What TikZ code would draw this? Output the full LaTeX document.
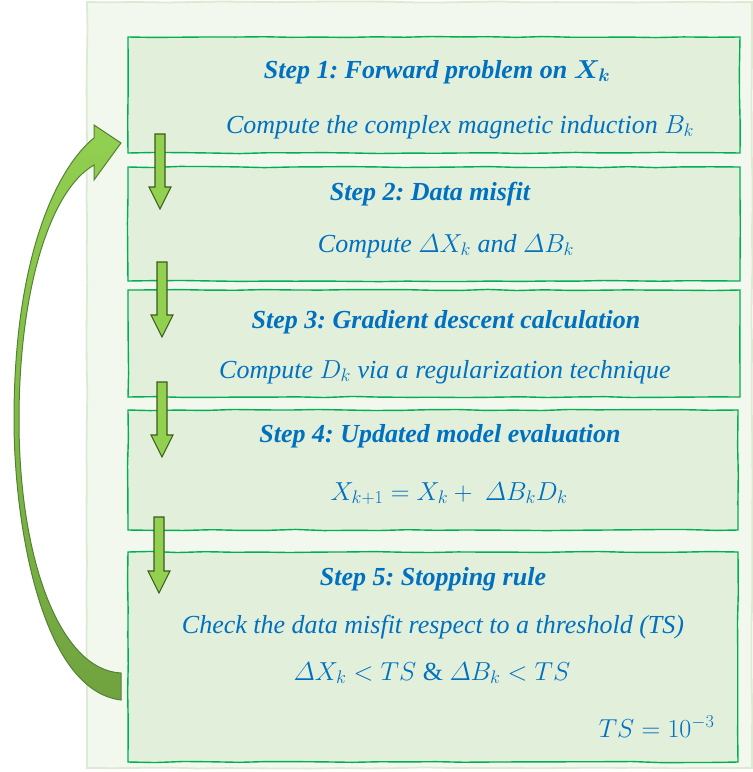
\RequirePackage{fix-cm}
\documentclass[tikz,border=0pt]{standalone}
\usepackage{amsmath}
\usepackage{fontspec}
\setmainfont{Liberation Serif}
\usepackage{tikz}
\usetikzlibrary{positioning,calc,decorations.pathmorphing}
\frenchspacing

\definecolor{stepblue}{HTML}{0070C0}
\definecolor{boxfill}{HTML}{E2EFDA}
\definecolor{boxline}{HTML}{00B050}
\definecolor{panelfill}{HTML}{F3F8EF}
\definecolor{panelline}{HTML}{DCEAD1}
\definecolor{arrowfill}{HTML}{92D050}
\definecolor{arrowline}{HTML}{3B5A1E}
\definecolor{loopdark}{HTML}{70A33F}
\definecolor{loopline}{HTML}{548235}

% fat vertical arrow from #1 down to the tip #2
\newcommand{\stepdown}[2]{%
  \draw[flowarrow] ($(#1)+(-5,0)$) -- ($(#2)+(-5,-22)$) -- ($(#2)+(-11,-22)$) -- (#2)
    -- ($(#2)+(11,-22)$) -- ($(#2)+(5,-22)$) -- ($(#1)+(5,0)$) -- cycle;}

\begin{document}
\pgfmathsetseed{4}
\begin{tikzpicture}[x=1pt, y=-1pt,
    wobble/.style={decorate, decoration={random steps, segment length=28pt, amplitude=0.6pt}},
    stepbox/.style={draw=boxline, fill=boxfill, line width=1.4pt, minimum width=612pt, inner sep=0pt, wobble},
    title/.style={text=stepblue, font=\fontsize{26}{30}\selectfont\bfseries\itshape, anchor=base},
    body/.style={text=stepblue, font=\fontsize{26}{30}\selectfont\itshape, anchor=base},
    flowarrow/.style={fill=arrowfill, draw=arrowline, line width=1.1pt, line join=miter},
    looparrow/.style={top color=arrowfill, bottom color=loopdark, draw=loopline, line width=1pt}]
    \useasboundingbox (0,0) rectangle (753,772);

    % Background panel
    \draw[fill=panelfill, draw=panelline, line width=1.8pt, wobble] (87,2) rectangle (752,768);

    % Step boxes
    \node[stepbox, minimum height=116pt] (step1) at (434,95) {};
    \node[stepbox, minimum height=114pt] (step2) at (434,224) {};
    \node[stepbox, minimum height=107pt] (step3) at (434,343.5) {};
    \node[stepbox, minimum width=610pt, minimum height=120pt] (step4) at (433,470) {};
    \node[stepbox, minimum width=610pt, minimum height=210pt] (step5) at (433,657) {};

    % Texts
    \node[title] (title1) at (437,78) {Step 1: Forward problem on $\boldsymbol{X_k}$};
    \node[body] (text1) at (460,133) {Compute the complex magnetic induction $B_k$};

    \node[title] (title2) at (430,200) {Step 2: Data misfit};
    \node[body] (text2) at (446,252) {Compute $\varDelta X_k$ and $\varDelta B_k$};

    \node[title] (title3) at (446,328) {Step 3: Gradient descent calculation};
    \node[body] (text3) at (445,378) {Compute $D_k$ via a regularization technique};

    \node[title] (title4) at (440,442) {Step 4: Updated model evaluation};
    \node[body] (text4) at (449,500) {$X_{k+1} = X_k +\ \varDelta B_k D_k$};

    \node[title] (title5) at (433,585) {Step 5: Stopping rule};
    \node[body] (text5) at (433,633) {Check the data misfit respect to a threshold (TS)};
    \node[body] (rule5) at (432,680) {$\varDelta X_k < TS$\ \upshape\&\ $\varDelta B_k < TS$};
    \node[body, anchor=base east] (ts5) at (718,737) {$TS = 10^{-3}$};

    % Loop back from step 5 to step 1
    \coordinate (looptail) at (121,686);
    \coordinate (looptip) at (121,143);
    \draw[looparrow] ($(looptail)+(0,14)$) .. controls (40,690) and (14,520) .. (14,420)
        .. controls (14,250) and (60,165) .. (94,138) -- (94,125) -- (looptip) -- (94,180) -- (94,165)
        .. controls (50,190) and (19,290) .. (19,420)
        .. controls (19,560) and (60,670) .. ($(looptail)+(0,-13)$) -- cycle;

    % Arrows between the steps
    \foreach \i/\xa/\ys/\ye in {1/160/134/209, 2/162/262/337, 3/162/382/457, 4/159/517/593}{
        \coordinate (down\i s) at (\xa,\ys);
        \coordinate (down\i e) at (\xa,\ye);
        \stepdown{down\i s}{down\i e}
    }
\end{tikzpicture}
\end{document}
